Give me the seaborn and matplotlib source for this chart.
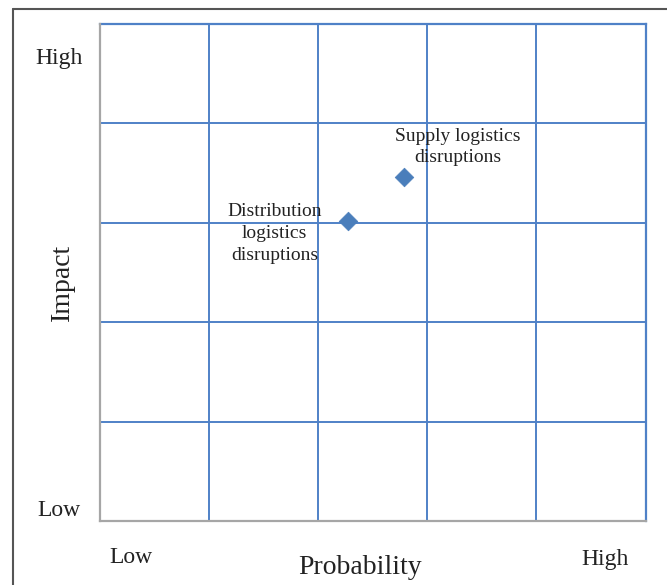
import matplotlib
matplotlib.use("Agg")
import matplotlib.pyplot as plt
import seaborn as sns
import pandas as pd
from matplotlib.lines import Line2D

# Risk matrix data
risks = ["Supply logistics\ndisruptions", "Distribution\nlogistics\ndisruptions"]
probability = [2.79, 2.27]
impact = [3.46, 3.02]
level_labels = ["Low", "High"]
n_cells = 5

df = pd.DataFrame({"risk": risks, "probability": probability, "impact": impact})

sns.set_theme(style="white")
plt.rcParams["font.family"] = ["Liberation Serif", "DejaVu Serif"]

grid_blue = "#4f81c7"
marker_blue = "#4a7ebb"
axis_gray = "#a6a6a6"
text_color = "#222222"

fig = plt.figure(figsize=(6.67, 5.85), dpi=100)
ax = fig.add_axes([0.1499, 0.1094, 0.9678 - 0.1499, 0.9598 - 0.1094])

sns.scatterplot(data=df, x="probability", y="impact", marker="D", s=90,
                color=marker_blue, edgecolor=marker_blue, linewidth=0.5,
                ax=ax, zorder=5, legend=False)

ax.set_xlim(0, n_cells)
ax.set_ylim(0, n_cells)
ax.set_xticks(range(n_cells + 1))
ax.set_yticks(range(n_cells + 1))
ax.set_xticklabels([])
ax.set_yticklabels([])
ax.tick_params(length=0)
ax.grid(True, color=grid_blue, linewidth=1.4)
ax.set_axisbelow(True)
ax.set_xlabel("")
ax.set_ylabel("")

for side in ["top", "right"]:
    ax.spines[side].set_color(grid_blue)
    ax.spines[side].set_linewidth(1.6)
for side in ["left", "bottom"]:
    ax.spines[side].set_color(axis_gray)
    ax.spines[side].set_linewidth(1.6)
    ax.spines[side].set_zorder(6)

# Point labels
ax.text(3.28, 3.76, risks[0], ha="center", va="center", fontsize=14,
        color=text_color, linespacing=1.35)
ax.text(1.6, 2.89, risks[1], ha="center", va="center", fontsize=14,
        color=text_color, linespacing=1.35)

# Level labels for the impact axis
ax.text(-0.378, 4.65, level_labels[1], ha="center", va="center", fontsize=17,
        color=text_color)
ax.text(-0.378, 0.11, level_labels[0], ha="center", va="center", fontsize=17,
        color=text_color)

# Level labels for the probability axis
ax.text(0.28, -0.37, level_labels[0], ha="center", va="center", fontsize=17,
        color=text_color)
ax.text(4.63, -0.39, level_labels[1], ha="center", va="center", fontsize=17,
        color=text_color)

ax.text(2.385, -0.465, "Probability", ha="center", va="center", fontsize=20,
        color=text_color)
ax.text(-0.34, 2.4, "Impact", ha="center", va="center", fontsize=20,
        rotation=90, color=text_color)

# Outer frame
fig.add_artist(Line2D([13.5 / 667, 13.5 / 667], [0, 1 - 9 / 585],
                      transform=fig.transFigure, color="#555555", linewidth=1.5))
fig.add_artist(Line2D([13.5 / 667, 1], [1 - 9 / 585, 1 - 9 / 585],
                      transform=fig.transFigure, color="#555555", linewidth=1.5))

fig.savefig("out.png", dpi=100)
